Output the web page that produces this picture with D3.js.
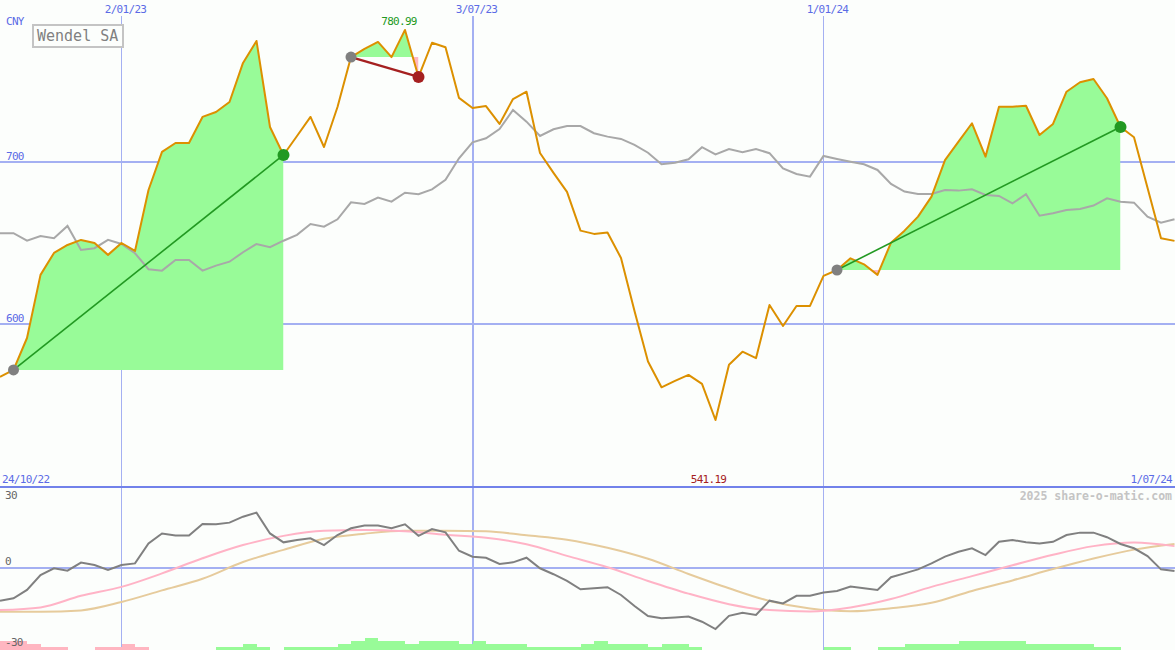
<!DOCTYPE html>
<html lang="en">
<head>
<meta charset="UTF-8">
<title>Wendel SA</title>
<script src="https://cdn.jsdelivr.net/npm/d3@7"></script>
<style type="text/css">
	body { margin: 0; background: #fcfefc; }
	svg { display: block; }
	text { font-family: 'DejaVu Sans Mono', monospace; }
	.lbl { font-size: 11px; letter-spacing: -0.7px; fill: #5b6be6 }
	.sub-lbl { font-size: 11px; letter-spacing: -0.7px; fill: #666 }
	.title { font-size: 15px; fill: #808080 }
	.brand { font-size: 11.5px; font-weight: bold; fill: #c4c4c4 }
</style>
</head>
<body>
<script type="text/javascript">

// weekly closes, CNY
var price = [567.7, 572.0, 591.6, 630.4, 643.9, 648.8, 651.9, 650.0, 642.7, 650.0,
	645.1, 682.6, 706.0, 711.5, 711.5, 727.5, 730.5, 736.7, 760.7, 774.2,
	721.3, 704.1, 715.8, 727.5, 709.0, 733.6, 764.3, 769.3, 773.6, 764.3,
	780.99, 752.1, 773.1, 770.3, 739.2, 733.0, 734.2, 723.2, 738.5, 743.0,
	705.3, 693.1, 681.4, 657.6, 655.6, 656.4, 640.8, 608.2, 577.1, 561.3,
	565.2, 568.9, 563.4, 541.19, 575.1, 583.2, 579.2, 611.9, 599.0, 611.3,
	611.3, 629.8, 633.4, 640.6, 636.9, 630.4, 650.2, 657.6, 666.2, 678.5,
	701.0, 712.3, 723.6, 703.1, 733.8, 733.8, 734.4, 716.4, 723.2, 743.0,
	748.8, 750.8, 739.0, 721.3, 715.0, 684.0, 652.9, 651.3];

// comparison index, rebased
var bench = [656.0, 656.0, 651.4, 654.3, 652.9, 660.5, 645.7, 646.8, 651.9, 649.4,
	643.7, 633.9, 633.0, 639.6, 639.6, 633.0, 636.1, 638.5, 644.3, 649.4,
	647.4, 651.4, 655.0, 661.7, 660.0, 664.6, 675.0, 674.0, 677.9, 675.4,
	680.9, 680.0, 683.0, 688.8, 702.1, 711.9, 714.4, 720.1, 731.8, 724.6,
	715.8, 719.9, 721.9, 721.9, 717.5, 715.4, 714.0, 710.3, 705.5, 698.4,
	699.4, 701.5, 708.9, 704.5, 707.8, 705.8, 707.8, 705.2, 695.9, 692.4,
	690.8, 703.5, 701.7, 700.0, 698.4, 694.9, 686.3, 681.6, 680.1, 680.1,
	682.6, 682.2, 683.0, 679.5, 678.9, 674.4, 680.0, 666.8, 668.3, 670.3,
	670.9, 673.0, 677.5, 675.4, 674.8, 666.2, 662.5, 664.6];

var momentum = [-12.1, -11.2, -8.1, -2.6, -0.1, -1.0, 2.0, 1.1, -0.7, 1.1,
	1.7, 9.1, 12.8, 12.0, 12.0, 16.3, 16.2, 16.8, 19.0, 20.5,
	12.8, 9.5, 10.4, 11.0, 8.5, 12.2, 14.7, 15.7, 15.7, 14.7,
	16.2, 11.9, 14.4, 13.2, 6.4, 4.2, 3.8, 1.5, 2.1, 3.8,
	-0.1, -2.3, -4.8, -7.9, -7.5, -7.1, -10.0, -14.1, -17.8, -18.6,
	-18.3, -18.0, -19.9, -22.6, -17.7, -16.6, -17.4, -12.1, -13.1, -10.3,
	-10.3, -9.1, -8.5, -6.9, -7.5, -8.1, -3.4, -2.0, -0.5, 1.7,
	4.2, 6.0, 7.3, 4.8, 9.7, 10.4, 9.5, 9.1, 9.7, 12.2,
	13.1, 13.1, 11.4, 8.9, 7.3, 4.4, -0.5, -1.1];

// smoothed lines, read every third week
var maIdx = [0, 3, 6, 9, 12, 15, 18, 21, 24, 27, 30, 33, 36, 39, 42,
	45, 48, 51, 54, 57, 60, 63, 66, 69, 72, 75, 78, 81, 84, 87];
var maFast = [-15.6, -14.6, -10.3, -7.0, -2.0, 3.6, 8.5, 11.9, 13.8, 14.1, 13.6, 12.3, 11.2, 8.8, 4.5,
	0.3, -4.8, -9.5, -13.4, -15.6, -16.1, -14.6, -11.5, -7.0, -3.0, 1.0, 4.9, 8.1, 9.4, 8.1];
var maSlow = [-16.2, -16.2, -15.7, -12.6, -8.3, -4.0, 2.2, 6.7, 10.8, 12.7, 13.8, 13.8, 13.6, 12.1, 10.5,
	7.5, 3.4, -2.2, -7.5, -12.2, -15.0, -16.0, -14.9, -12.9, -8.5, -4.6, -0.4, 3.5, 6.8, 8.9];

var hist = [-3, -3, -2, -1, -1, 0, 0, -1, -1, -2,
	-1, 0, 0, 0, 0, 0, 1, 1, 2, 1,
	0, 1, 1, 1, 1, 2, 3, 4, 3, 3,
	2, 3, 3, 3, 2, 3, 2, 2, 2, 1,
	1, 1, 1, 2, 3, 2, 2, 2, 1, 2,
	2, 1, 0, 0, 0, 0, 0, 0, 0, 0,
	0, 1, 1, 0, 0, 1, 1, 2, 2, 2,
	2, 3, 3, 3, 3, 3, 2, 2, 2, 2,
	2, 1, 1, 0, 0, 0, 0, 0];

var dateIdx = [9, 35, 61];
var dateLabels = ['2/01/23', '3/07/23', '1/01/24'];
var priceTicks = [600, 700];
var subTicks = [30, 0, -30];
var startLabel = '24/10/22', endLabel = '1/07/24';
// [start week, end week] of the highlighted moves
var periods = [[1, 21], [26, 31], [62, 83]];

var width = 1175, height = 650, mainH = 487;

var x = d3.scaleLinear().domain([0, 87]).range([0, 1174.5]);
var y = d3.scaleLinear().domain([500, 800]).range([mainH, -1]);
var ySub = d3.scaleLinear().domain([-30, 30]).range([649, 487]);
var yHist = d3.scaleLinear().domain([0, 4]).range([650, 638]);

var svg = d3.select('body').append('svg')
	.attr('width', width)
	.attr('height', height);

svg.append('rect').attr('width', width).attr('height', height).attr('fill', '#fcfefc');

var grid = svg.append('g').attr('stroke', '#a4b0f2').attr('shape-rendering', 'crispEdges');
grid.selectAll('.hg').data(priceTicks).enter().append('line')
	.attr('x1', 0).attr('x2', width)
	.attr('y1', d => y(d)).attr('y2', d => y(d))
	.attr('stroke-width', 2);
grid.append('line')
	.attr('x1', 0).attr('x2', width)
	.attr('y1', ySub(0)).attr('y2', ySub(0))
	.attr('stroke-width', 2);
grid.selectAll('.vg').data(dateIdx).enter().append('line')
	.attr('x1', d => x(d)).attr('x2', d => x(d))
	.attr('y1', 16).attr('y2', height)
	.attr('stroke-width', (d, i) => i == 1 ? 2 : 1);

// highlighted moves: green above the start level, pink below
var defs = svg.append('defs');
periods.forEach(function(p, k) {
	var base = price[p[0]];
	var idx = d3.range(p[0], p[1] + 1);
	var x0 = x(p[0]), x1 = x(p[1]);
	defs.append('clipPath').attr('id', 'up' + k).append('rect')
		.attr('x', x0).attr('y', 0).attr('width', x1 - x0).attr('height', y(base));
	defs.append('clipPath').attr('id', 'dn' + k).append('rect')
		.attr('x', x0).attr('y', y(base)).attr('width', x1 - x0).attr('height', mainH - y(base));
	var area = d3.area().x(i => x(i)).y0(y(base)).y1(i => y(price[i]));
	svg.append('path').datum(idx).attr('d', area)
		.attr('fill', '#98fb98').attr('clip-path', 'url(#up' + k + ')');
	svg.append('path').datum(idx).attr('d', area)
		.attr('fill', '#ffb6c1').attr('clip-path', 'url(#dn' + k + ')');
});

var line = d3.line().x((d, i) => x(i));

svg.append('path').datum(bench)
	.attr('d', line.y(d => y(d)))
	.attr('fill', 'none').attr('stroke', '#a8a8a8').attr('stroke-width', 2);

svg.append('path').datum(price)
	.attr('d', line.y(d => y(d)))
	.attr('fill', 'none').attr('stroke', '#dc9000').attr('stroke-width', 2)
	.attr('stroke-linejoin', 'round');

periods.forEach(function(p) {
	var up = price[p[1]] >= price[p[0]];
	svg.append('line')
		.attr('x1', x(p[0])).attr('y1', y(price[p[0]]))
		.attr('x2', x(p[1])).attr('y2', y(price[p[1]]))
		.attr('stroke', up ? '#229922' : '#a52020')
		.attr('stroke-width', up ? 1.6 : 2.2);
	svg.append('circle')
		.attr('cx', x(p[0])).attr('cy', y(price[p[0]])).attr('r', 5.5)
		.attr('fill', '#808080');
	svg.append('circle')
		.attr('cx', x(p[1])).attr('cy', y(price[p[1]])).attr('r', 6)
		.attr('fill', up ? '#229922' : '#a52020');
});

// max / min labels
var iMax = d3.maxIndex(price), iMin = d3.minIndex(price);
svg.append('text').attr('class', 'lbl').style('fill', '#229922')
	.attr('x', x(iMax) - 6).attr('y', 25).attr('text-anchor', 'middle')
	.text(d3.format('.2f')(price[iMax]));
svg.append('text').attr('class', 'lbl').style('fill', '#a52020')
	.attr('x', x(iMin) - 7).attr('y', 483).attr('text-anchor', 'middle')
	.text(d3.format('.2f')(price[iMin]));

// panel divider
svg.append('line')
	.attr('x1', 0).attr('x2', width)
	.attr('y1', 487).attr('y2', 487)
	.attr('shape-rendering', 'crispEdges')
	.attr('stroke', '#7282ea').attr('stroke-width', 2);

// axis texts
svg.selectAll('.dl').data(dateIdx).enter().append('text')
	.attr('class', 'lbl')
	.attr('x', d => x(d) + 4).attr('y', 13)
	.attr('text-anchor', 'middle')
	.text((d, i) => dateLabels[i]);
svg.append('text').attr('class', 'lbl').attr('x', 6).attr('y', 25).text('CNY');
svg.selectAll('.pl').data(priceTicks).enter().append('text')
	.attr('class', 'lbl')
	.attr('x', 6).attr('y', d => y(d) - 2)
	.text(d => d);
svg.append('text').attr('class', 'lbl').attr('x', 2).attr('y', 483).text(startLabel);
svg.append('text').attr('class', 'lbl').attr('x', 1172).attr('y', 483)
	.attr('text-anchor', 'end').text(endLabel);

// title box
svg.append('rect').attr('x', 33).attr('y', 25).attr('width', 90).attr('height', 22)
	.attr('fill', '#fcfefc').attr('stroke', '#c4c4c4').attr('stroke-width', 2);
svg.append('text').attr('class', 'title').attr('x', 37).attr('y', 41).text('Wendel SA');

// lower panel
svg.selectAll('.bar').data(hist).enter().append('rect')
	.attr('x', (d, i) => x(i))
	.attr('width', x(1) - x(0))
	.attr('y', d => yHist(Math.abs(d)))
	.attr('height', d => yHist(0) - yHist(Math.abs(d)))
	.attr('shape-rendering', 'crispEdges')
	.attr('fill', d => d < 0 ? '#ffb6c1' : '#98fb98');

var maLine = d3.line().curve(d3.curveMonotoneX)
	.x((d, i) => x(maIdx[i]))
	.y(d => ySub(d));

svg.append('path').datum(maSlow).attr('d', maLine)
	.attr('fill', 'none').attr('stroke', '#e6cb9c').attr('stroke-width', 2);
svg.append('path').datum(maFast).attr('d', maLine)
	.attr('fill', 'none').attr('stroke', '#ffb3c6').attr('stroke-width', 2);
svg.append('path').datum(momentum)
	.attr('d', d3.line().x((d, i) => x(i)).y(d => ySub(d)))
	.attr('fill', 'none').attr('stroke', '#808080').attr('stroke-width', 2);

svg.append('text').attr('class', 'sub-lbl').attr('x', 5).attr('y', 499).text(subTicks[0]);
svg.append('text').attr('class', 'sub-lbl').attr('x', 5).attr('y', 565).text(subTicks[1]);
svg.append('text').attr('class', 'sub-lbl').attr('x', 5).attr('y', 646).text(subTicks[2]);

svg.append('text').attr('class', 'brand').attr('x', 1172).attr('y', 500)
	.attr('text-anchor', 'end').text('2025 share-o-matic.com');

</script>
</body>
</html>
